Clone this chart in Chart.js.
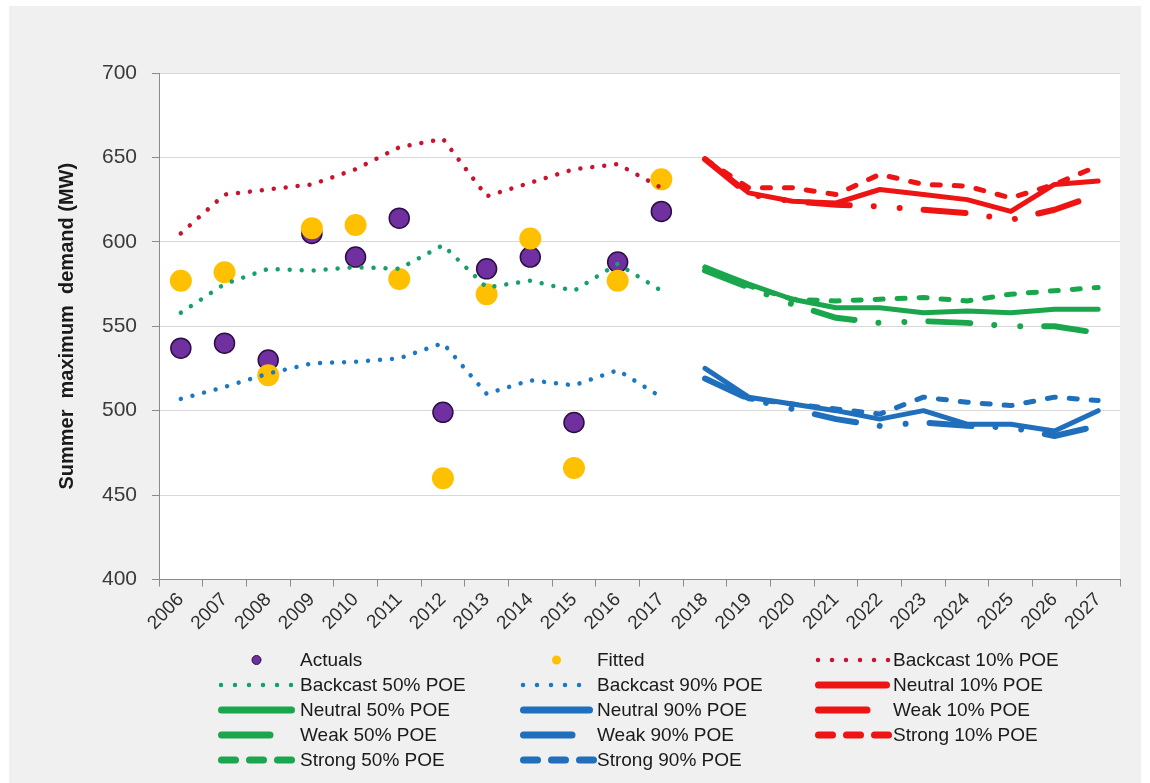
<!DOCTYPE html>
<html>
<head>
<meta charset="utf-8">
<script src="https://cdn.jsdelivr.net/npm/chart.js@4.4.1/dist/chart.umd.min.js"></script>
<style>
  html, body { margin: 0; padding: 0; background: #ffffff; }
  canvas { display: block; }
</style>
</head>
<body>
<canvas id="demand" width="1150" height="783"></canvas>
<script>
// Financial years on the category axis
const years = ['2006','2007','2008','2009','2010','2011','2012','2013','2014','2015','2016',
               '2017','2018','2019','2020','2021','2022','2023','2024','2025','2026','2027'];

// Y axis range and tick step (MW)
const yMin = 400;
const yMax = 700;
const yStep = 50;

// History, 2006-2017
const actuals    = [537, 540, 530, 605, 591, 614, 499, 584, 591, 493, 588, 618];
const fitted     = [577, 582, 521, 608, 610, 578, 460, 569, 602, 466, 577, 637];
const backcast10 = [605, 628, 631, 634, 643, 656, 661, 627, 635, 643, 646, 632];
const backcast50 = [558, 575, 584, 583, 585, 584, 598, 573, 577, 571, 587, 571];
const backcast90 = [507, 514, 522, 528, 529, 531, 540, 510, 518, 515, 524, 508];

// Forecasts, 2018-2027
const neutral10 = [649, 629, 624, 623, 631, 628, 625, 618, 634, 636];
const neutral50 = [585, 575, 566, 561, 561, 558, 559, 558, 560, 560];
const neutral90 = [525, 508, 504, 500, 495, 500, 492, 492, 488, 500];
const weak10    = [649, 628, 624, 622, 621, 619, 617, 613, 619, 628];
const weak50    = [583, 573, 563, 555, 552, 553, 552, 550, 550, 546];
const weak90    = [519, 507, 501, 495, 491, 493, 491, 490, 485, 491];
const strong10  = [649, 632, 632, 628, 640, 634, 633, 626, 634, 645];
const strong50  = [585, 574, 566, 565, 566, 567, 565, 569, 571, 573];
const strong90  = [519, 507, 504, 501, 498, 508, 505, 503, 508, 506];

const RED = '#ee1414', GREEN = '#1aa64c', BLUE = '#1f6fbc';
const RED_DOT = '#c8142e', GREEN_DOT = '#17a06a', BLUE_DOT = '#1b78c2';
const FONT = "'Liberation Sans', Arial, sans-serif";

// place a history series on the first 12 years, a forecast on the last 10
const history  = v => v.concat(new Array(years.length - v.length).fill(null));
const forecast = v => new Array(years.length - v.length).fill(null).concat(v);

function markers(label, data, fill, border, radius, bw) {
  return { label, data: history(data), showLine: false, pointRadius: radius,
    pointBackgroundColor: fill, pointBorderColor: border, pointBorderWidth: bw,
    borderColor: fill, backgroundColor: fill, sample: 'dot' };
}
function backcast(label, data, color) {
  return { label, data: history(data), borderColor: color, borderWidth: 4.5,
    borderDash: [0.001, 12], borderCapStyle: 'round', borderJoinStyle: 'round',
    pointRadius: 0, sample: 'dots' };
}
function neutral(label, data, color) {
  return { label, data: forecast(data), borderColor: color, borderWidth: 5,
    borderCapStyle: 'round', borderJoinStyle: 'round', pointRadius: 0, sample: 'solid' };
}
function weak(label, data, color) {
  return { label, data: forecast(data), borderColor: color, borderWidth: 6,
    borderDash: [42, 24, 0.001, 26, 0.001, 24], borderCapStyle: 'round',
    borderJoinStyle: 'round', pointRadius: 0, sample: 'dash' };
}
function strong(label, data, color) {
  return { label, data: forecast(data), borderColor: color, borderWidth: 5,
    borderDash: [8, 14], borderCapStyle: 'round', borderJoinStyle: 'round',
    pointRadius: 0, sample: 'dashes' };
}

const datasets = [
  markers('Actuals', actuals, '#7030a0', '#2a0f45', 10, 1.5),
  markers('Fitted', fitted, '#ffc000', '#ffc000', 11, 0),
  backcast('Backcast 10% POE', backcast10, RED_DOT),
  backcast('Backcast 50% POE', backcast50, GREEN_DOT),
  backcast('Backcast 90% POE', backcast90, BLUE_DOT),
  neutral('Neutral 10% POE', neutral10, RED),
  neutral('Neutral 50% POE', neutral50, GREEN),
  neutral('Neutral 90% POE', neutral90, BLUE),
  weak('Weak 10% POE', weak10, RED),
  weak('Weak 50% POE', weak50, GREEN),
  weak('Weak 90% POE', weak90, BLUE),
  strong('Strong 10% POE', strong10, RED),
  strong('Strong 50% POE', strong50, GREEN),
  strong('Strong 90% POE', strong90, BLUE)
];
// later series paint over earlier ones
datasets.forEach((d, i) => { d.order = datasets.length - i; d.tension = 0; d.fill = false; });

// grey panel behind the chart, white plotting area
const panel = {
  id: 'panel',
  beforeDraw(chart) {
    const { ctx, chartArea: a } = chart;
    ctx.save();
    ctx.fillStyle = '#ffffff';
    ctx.fillRect(0, 0, chart.width, chart.height);
    ctx.fillStyle = '#f0f0f0';
    ctx.fillRect(9, 6, chart.width - 18, chart.height - 6);
    ctx.fillStyle = '#ffffff';
    ctx.fillRect(a.left, a.top, a.right - a.left, a.bottom - a.top);
    ctx.restore();
  }
};

// three-column legend under the axis
const gridLegend = {
  id: 'gridLegend',
  afterDraw(chart) {
    const ctx = chart.ctx;
    const cols = [{ s: 218, e: 295, t: 300 }, { s: 520, e: 593, t: 597 }, { s: 815, e: 890, t: 893 }];
    const top = 660, step = 25;
    ctx.save();
    chart.data.datasets.forEach((d, i) => {
      const c = cols[i % 3];
      const y = top + Math.floor(i / 3) * step;
      ctx.strokeStyle = d.borderColor;
      ctx.lineCap = 'round';
      ctx.setLineDash([]);
      if (d.sample === 'dot') {
        ctx.beginPath();
        ctx.arc((c.s + c.e) / 2, y, 4.5, 0, Math.PI * 2);
        ctx.fillStyle = d.pointBackgroundColor;
        ctx.fill();
        if (d.pointBorderWidth) { ctx.lineWidth = 1; ctx.strokeStyle = d.pointBorderColor; ctx.stroke(); }
      } else if (d.sample === 'dots') {
        ctx.lineWidth = 4.5;
        ctx.setLineDash([0.001, 14]);
        ctx.beginPath(); ctx.moveTo(c.s + 3, y); ctx.lineTo(c.e, y); ctx.stroke();
      } else if (d.sample === 'solid') {
        ctx.lineWidth = 7;
        ctx.beginPath(); ctx.moveTo(c.s + 3.5, y); ctx.lineTo(c.e - 3.5, y); ctx.stroke();
      } else if (d.sample === 'dash') {
        ctx.lineWidth = 7;
        ctx.beginPath(); ctx.moveTo(c.s + 3.5, y); ctx.lineTo(c.s + 52, y); ctx.stroke();
      } else if (d.sample === 'dashes') {
        ctx.lineWidth = 7;
        for (let k = 0; k < 3; k++) {
          const x0 = c.s + k * 28 + 3.5;
          ctx.beginPath(); ctx.moveTo(x0, y); ctx.lineTo(x0 + 14, y); ctx.stroke();
        }
      }
      ctx.setLineDash([]);
      ctx.fillStyle = '#1a1a1a';
      ctx.font = '19px ' + FONT;
      ctx.textAlign = 'left';
      ctx.textBaseline = 'middle';
      ctx.fillText(d.label, c.t, y + 1);
    });
    ctx.restore();
  }
};

new Chart(document.getElementById('demand'), {
  type: 'line',
  data: { labels: years, datasets },
  options: {
    responsive: false,
    animation: false,
    events: [],
    devicePixelRatio: 1,
    layout: { padding: { top: 73, right: 30, bottom: 0, left: 0 } },
    plugins: { legend: { display: false }, tooltip: { enabled: false } },
    scales: {
      x: {
        type: 'category',
        offset: true,
        grid: { display: true, drawOnChartArea: false, offset: true, drawTicks: true,
                tickLength: 7, tickColor: '#8a8a8a' },
        border: { display: true, color: '#8a8a8a', width: 1 },
        ticks: { autoSkip: false, minRotation: 45, maxRotation: 45, padding: 2,
                 color: '#2e2e2e', font: { family: FONT, size: 19 } },
        afterFit(scale) { scale.height = 203.5; }
      },
      y: {
        min: yMin, max: yMax,
        ticks: { stepSize: yStep, padding: 15, color: '#3a3a3a',
                 font: { family: FONT, size: 21 } },
        grid: { color: '#d9d9d9', lineWidth: 1, tickLength: 7, tickColor: '#8a8a8a' },
        border: { display: true, color: '#8a8a8a', width: 1 },
        title: { display: true, text: 'Summer  maximum  demand (MW)', color: '#1a1a1a',
                 font: { family: FONT, size: 20, weight: 'bold' }, padding: { top: 55, bottom: 0 } },
        afterFit(scale) { scale.width = 159; }
      }
    }
  },
  plugins: [panel, gridLegend]
});
</script>
</body>
</html>
